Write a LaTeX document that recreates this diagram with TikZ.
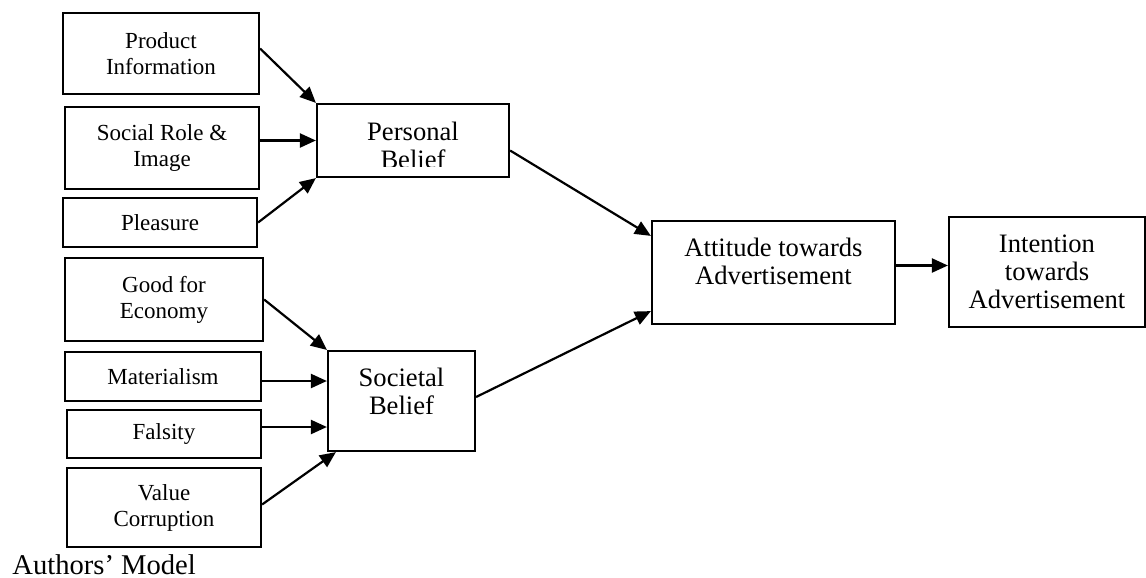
\documentclass[tikz,border=0pt]{standalone}
\usepackage{fontspec}
\setmainfont{Liberation Serif}
\usetikzlibrary{arrows.meta}
\tikzset{
	box/.style={draw, line width=1.1pt, inner sep=0pt, align=center},
	small/.style={font=\fontsize{11.5}{13}\selectfont},
	big/.style={font=\fontsize{13.3}{14}\selectfont, align=center},
	arr/.style={-{Triangle[length=8pt, width=7pt]}, line width=1.1pt},
}
\begin{document}
\begin{tikzpicture}[x=.5pt, y=-.5pt]
		\useasboundingbox (0,0) rectangle (1146,578);
		% the seven items on the left
		\foreach \name/\cx/\cy/\w/\h/\txt in {
				product/161/53.5/196/81/{Product\\Information},
				social/162/148/194/82/{Social Role \&\\Image},
				pleasure/160/222.5/194/49/{Pleasure},
				economy/164/299.5/198/83/{Good for\\Economy},
				materialism/163/376.5/196/49/{Materialism},
				falsity/164/434/194/48/{Falsity},
				corruption/164/507.5/194/79/{Value\\Corruption}}{
				\node[box, small, minimum width=\w*.5pt, minimum height=\h*.5pt] (\name) at (\cx,\cy) {\txt};
			}
		% the two beliefs
		\node[box, minimum width=96pt, minimum height=36.5pt] (personal) at (413,140.5) {};
		\begin{scope}
			\clip (personal.north west) rectangle ([yshift=6pt]personal.south east);
			\node[big] (personal-t) at ([yshift=-2.5pt]personal) {Personal\\Belief};
		\end{scope}
		\node[box, minimum width=73.5pt, minimum height=50pt] (societal) at (401.5,401) {};
		\node[big] (societal-t) at ([yshift=5pt]societal) {Societal\\Belief};
		% attitude and intention
		\node[box, minimum width=121.5pt, minimum height=51.5pt] (attitude) at (773.5,272.5) {};
		\node[big] (attitude-t) at ([yshift=5.5pt]attitude) {Attitude towards\\Advertisement};
		\node[box, big, minimum width=98pt, minimum height=55pt] (intention) at (1047,272) {Intention\\towards\\Advertisement};
		\node[anchor=base west, inner sep=0pt, font=\fontsize{14.3}{16}\selectfont] (caption) at (12,574.5) {Authors’ Model};
		% arrows
		\draw[arr] ([yshift=2.5pt]product.east) -- (personal.north west);
		\draw[arr] (social.east |- personal.west) -- (personal.west);
		\draw[arr] (pleasure.east) -- (personal.south west);
		\draw[arr] (economy.east) -- (societal.north west);
		\draw[arr] ([yshift=-2.25pt]materialism.east) -- ([yshift=-2.25pt]materialism.east -| societal.west);
		\draw[arr] ([yshift=3.5pt]falsity.east) -- ([yshift=3.5pt]falsity.east -| societal.west);
		\draw[arr] ([yshift=1.5pt]corruption.east) -- ([xshift=4.5pt]societal.south west);
		\draw[arr] ([yshift=-5pt]personal.east) -- ([yshift=-8pt]attitude.north west);
		\draw[arr] ([yshift=2pt]societal.east) -- ([yshift=7pt]attitude.south west);
		\draw[arr] ([yshift=3.5pt]attitude.east) -- ([yshift=3.5pt]attitude.east -| intention.west);
	\end{tikzpicture}
\end{document}
